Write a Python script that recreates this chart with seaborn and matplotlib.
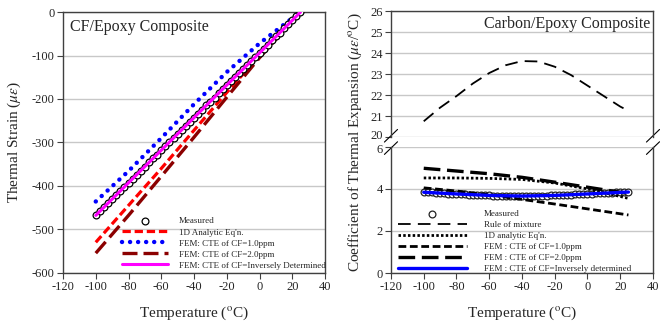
import matplotlib
matplotlib.use("Agg")
import matplotlib.pyplot as plt
import matplotlib.transforms as mtransforms
import seaborn as sns

# ---- left panel: thermal strain ----
temp_line = [-100, -80, -60, -40, -20, 0, 20, 25]
strain_analytic = [-530, -445, -360, -272, -185, -100, -18, 0]
strain_cf1 = [-436, -366, -290, -212, -138, -72, -14, 0]
strain_cf2 = [-555, -468, -378, -288, -196, -105, -20, 0]
strain_inverse = [-468, -393, -318, -243, -168, -94, -19, 0]

temp_meas = [-100, -97.5, -95, -92.5, -90, -87.5, -85, -82.5, -80, -77.5,
             -75, -72.5, -70, -67.5, -65, -62.5, -60, -57.5, -55, -52.5,
             -50, -47.5, -45, -42.5, -40, -37.5, -35, -32.5, -30, -27.5,
             -25, -22.5, -20, -17.5, -15, -12.5, -10, -7.5, -5, -2.5,
             0, 2.5, 5, 7.5, 10, 12.5, 15, 17.5, 20, 22.5, 25]
strain_meas = [-468, -459, -449, -440, -431, -421, -412, -403, -393, -384,
               -374, -365, -356, -346, -337, -328, -318, -309, -300, -290,
               -281, -271, -262, -253, -243, -234, -225, -215, -206, -197,
               -187, -178, -168, -159, -150, -140, -131, -122, -112, -103,
               -94, -84, -75, -65, -56, -47, -37, -28, -19, -9, 0]

# ---- right panel: CTE ----
temp_rom = [-100, -90, -80, -70, -60, -50, -40, -30, -20, -10, 0, 10, 20, 22]
cte_rom = [20.75, 21.4, 21.95, 22.55, 23.05, 23.42, 23.62, 23.6, 23.35,
           22.95, 22.45, 21.95, 21.45, 21.37]
temp_fem = [-100, -80, -60, -40, -20, 0, 25]
cte_analytic = [4.52, 4.52, 4.50, 4.45, 4.28, 4.0, 3.55]
cte_cf1 = [4.05, 3.9, 3.72, 3.5, 3.28, 3.05, 2.76]
cte_cf2 = [4.98, 4.85, 4.72, 4.55, 4.32, 4.08, 3.78]
cte_inverse = [3.84, 3.76, 3.69, 3.66, 3.69, 3.76, 3.85]
cte_meas = [3.85, 3.84, 3.83, 3.81, 3.80, 3.79, 3.78, 3.77, 3.76, 3.75,
            3.74, 3.73, 3.72, 3.71, 3.70, 3.70, 3.69, 3.68, 3.68, 3.67,
            3.67, 3.67, 3.66, 3.66, 3.66, 3.66, 3.66, 3.67, 3.67, 3.68,
            3.68, 3.69, 3.69, 3.70, 3.71, 3.72, 3.73, 3.74, 3.75, 3.76,
            3.77, 3.78, 3.79, 3.79, 3.80, 3.81, 3.82, 3.83, 3.84, 3.85, 3.86]

sns.set_theme(style="white")
plt.rcParams["font.family"] = ["Liberation Serif", "DejaVu Serif"]
plt.rcParams["mathtext.fontset"] = "stix"
plt.rcParams["axes.unicode_minus"] = False

TICK_FS = 9
LABEL_FS = 11
LEG_FS = 6.5
SPINE = "#404040"
GRID = "#c8c8c8"

fig = plt.figure(figsize=(6.6, 3.27), dpi=100)
ax_l = fig.add_axes([0.0955, 0.166, 0.397, 0.797])
ax_u = fig.add_axes([0.5924, 0.581, 0.397, 0.385])
ax_d = fig.add_axes([0.5924, 0.165, 0.397, 0.386])


def style_axis(ax):
    for sp in ax.spines.values():
        sp.set_color(SPINE)
        sp.set_linewidth(1.0)
    ax.yaxis.grid(True, color=GRID, lw=1.0)
    ax.xaxis.grid(False)
    ax.set_axisbelow(True)
    ax.tick_params(direction="out", length=4, width=0.8, color=SPINE,
                   labelsize=TICK_FS, left=True, bottom=True, pad=2)


# left panel
sns.lineplot(x=temp_line, y=strain_analytic, ax=ax_l, color="#ff0000", lw=2.3,
             linestyle=(0, (2.6, 1.2)), label="1D Analytic Eq'n.")
sns.lineplot(x=temp_line, y=strain_cf2, ax=ax_l, color="#8b0000", lw=2.4,
             linestyle=(0, (4.5, 1.8)), label="FEM: CTE of CF=2.0ppm")
sns.lineplot(x=temp_line, y=strain_cf1, ax=ax_l, color="#0000ff", lw=3.2,
             linestyle=(0, (0.01, 1.8)), dash_capstyle="round",
             label="FEM: CTE of CF=1.0ppm")
sns.scatterplot(x=temp_meas, y=strain_meas, ax=ax_l, marker="o", s=24,
                facecolor="white", edgecolor="black", linewidth=0.9,
                zorder=3, label="Measured")
sns.lineplot(x=temp_line, y=strain_inverse, ax=ax_l, color="#ff00ff", lw=2.2,
             zorder=4, label="FEM: CTE of CF=Inversely Determined")

style_axis(ax_l)
ax_l.set_xlim(-120, 40)
ax_l.set_ylim(-600, 0)
ax_l.set_xticks(range(-120, 41, 20))
ax_l.set_yticks(range(-600, 1, 100))
ax_l.set_xlabel(r"Temperature ($^{\rm o}$C)", fontsize=LABEL_FS, labelpad=8)
ax_l.set_ylabel(r"Thermal Strain ($\mu\varepsilon$)", fontsize=LABEL_FS, labelpad=6)
ax_l.text(0.027, 0.975, "CF/Epoxy Composite", transform=ax_l.transAxes,
          ha="left", va="top", fontsize=11.5)

h, lab = ax_l.get_legend_handles_labels()
order = ["Measured", "1D Analytic Eq'n.", "FEM: CTE of CF=1.0ppm",
         "FEM: CTE of CF=2.0ppm", "FEM: CTE of CF=Inversely Determined"]
hd = dict(zip(lab, h))
ax_l.legend([hd[k] for k in order], order, loc="lower left",
            bbox_to_anchor=(0.225, 0.012), frameon=False, fontsize=LEG_FS,
            handlelength=5.1, handletextpad=1.2, labelspacing=0.3,
            borderpad=0, borderaxespad=0, scatterpoints=1)

# right panel, upper part
sns.lineplot(x=temp_rom, y=cte_rom, ax=ax_u, color="black", lw=1.3,
             linestyle=(0, (7, 4)), label="Rule of mixture")
style_axis(ax_u)
ax_u.spines["bottom"].set_visible(False)
ax_u.set_xlim(-120, 40)
ax_u.set_ylim(20, 26)
ax_u.set_yticks(range(20, 27))
ax_u.set_xticks([])
ax_u.text(0.989, 0.965, "Carbon/Epoxy Composite", transform=ax_u.transAxes,
          ha="right", va="top", fontsize=11.5)
rom_handle = ax_u.lines[-1]
if ax_u.get_legend() is not None:
    ax_u.get_legend().remove()

# right panel, lower part
sns.scatterplot(x=temp_meas, y=cte_meas, ax=ax_d, marker="o", s=24,
                facecolor="white", edgecolor="#222222", linewidth=0.9,
                zorder=2, label="Measured")
sns.lineplot(x=temp_fem, y=cte_analytic, ax=ax_d, color="black", lw=2.0,
             linestyle=(0, (0.9, 0.8)), label="1D analytic Eq'n.")
sns.lineplot(x=temp_fem, y=cte_cf1, ax=ax_d, color="black", lw=2.0,
             linestyle=(0, (2.8, 1.3)), label="FEM : CTE of CF=1.0ppm")
sns.lineplot(x=temp_fem, y=cte_cf2, ax=ax_d, color="black", lw=2.4,
             linestyle=(0, (5, 2)), label="FEM : CTE of CF=2.0ppm")
sns.lineplot(x=temp_fem, y=cte_inverse, ax=ax_d, color="#0000ff", lw=2.4,
             zorder=4, label="FEM : CTE of CF=Inversely determined")
style_axis(ax_d)
ax_d.spines["top"].set_visible(False)
ax_d.set_xlim(-120, 40)
ax_d.set_ylim(0, 6)
ax_d.set_yticks(range(0, 7, 2))
ax_d.set_xticks(range(-120, 41, 20))
ax_d.set_xlabel(r"Temperature ($^{\rm o}$C)", fontsize=LABEL_FS, labelpad=8)

h, lab = ax_d.get_legend_handles_labels()
hd = dict(zip(lab, h))
hd["Rule of mixture"] = rom_handle
order = ["Measured", "Rule of mixture", "1D analytic Eq'n.",
         "FEM : CTE of CF=1.0ppm", "FEM : CTE of CF=2.0ppm",
         "FEM : CTE of CF=Inversely determined"]
ax_d.legend([hd[k] for k in order], order, loc="lower left",
            bbox_to_anchor=(0.027, 0.0), frameon=False, fontsize=LEG_FS,
            handlelength=7.6, handletextpad=1.9, labelspacing=0.3,
            borderpad=0, borderaxespad=0, scatterpoints=1)

# nudge the crowded "20" and "6" labels apart a little
fig.canvas.draw()
up_shift = mtransforms.ScaledTranslation(0, 2 / 72, fig.dpi_scale_trans)
down_shift = mtransforms.ScaledTranslation(0, -1.5 / 72, fig.dpi_scale_trans)
for t in ax_u.get_yticklabels():
    if t.get_text() == "20":
        t.set_transform(t.get_transform() + up_shift)
for t in ax_d.get_yticklabels():
    if t.get_text() == "6":
        t.set_transform(t.get_transform() + down_shift)

# break marks
d = 0.025
kw = dict(color="black", lw=0.8, clip_on=False)
for x in (0, 1):
    ax_u.plot([x - d, x + d], [-0.8 * d * 2, 0.8 * d * 2 + 0.02],
              transform=ax_u.transAxes, **kw)
    ax_d.plot([x - d, x + d], [1 - 0.8 * d * 2 - 0.02, 1 + 0.8 * d * 2],
              transform=ax_d.transAxes, **kw)

fig.text(0.538, 0.566,
         r"Coefficient of Thermal Expansion ($\mu\varepsilon$/$^{\rm o}$C)",
         rotation=90, ha="center", va="center", fontsize=LABEL_FS)

fig.savefig("out.png", dpi=100)
